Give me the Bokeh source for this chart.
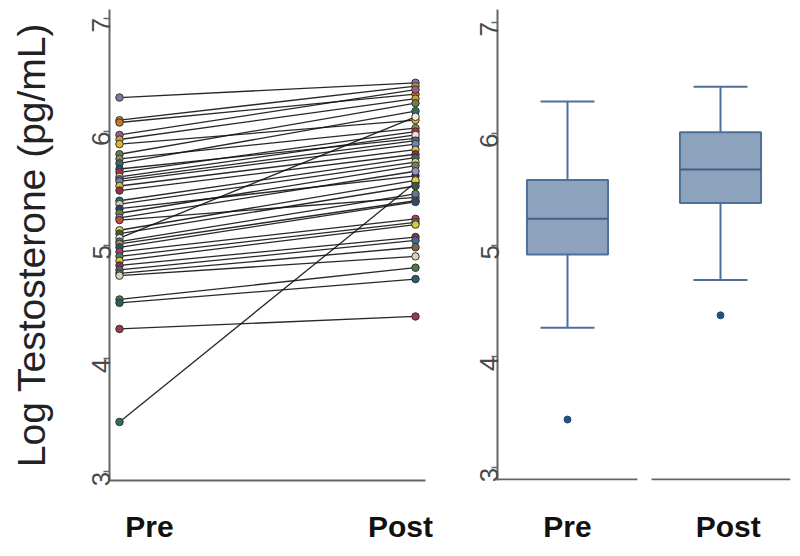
import math
from bokeh.plotting import figure
from bokeh.layouts import row
from bokeh.models import Range1d, FixedTicker, ColumnDataSource
from bokeh.embed import file_html
from bokeh.resources import INLINE

# ---------------- data ----------------
groups = ["Pre", "Post"]
y_ticks = [3, 4, 5, 6, 7]

pre = [6.30, 3.44, 4.26, 4.52, 4.49, 6.10, 6.08, 5.97, 5.93, 5.89, 5.80, 5.76, 5.72,
       5.67, 5.64, 5.60, 5.58, 5.56, 5.52, 5.48, 5.39, 5.36, 5.32, 5.28, 5.24, 5.22,
       5.13, 5.10, 5.06, 5.03, 5.01, 4.98, 4.94, 4.90, 4.86, 4.82, 4.78, 4.75, 4.73]
post = [6.43, 5.55, 4.37, 4.80, 4.70, 6.40, 6.33, 6.37, 6.29, 6.10, 6.25, 6.03, 6.18,
        5.94, 6.00, 5.97, 5.92, 5.89, 5.84, 5.80, 5.77, 5.73, 5.61, 5.70, 5.65, 5.42,
        5.57, 5.52, 6.13, 5.45, 5.39, 5.38, 5.23, 5.20, 5.18, 5.07, 5.04, 4.98, 4.90]
subject_colors = [
    "#7d7aa6", "#2f6e5e", "#9c3a4a", "#4e7a3e", "#2b5d6e",
    "#d0882c", "#c9781f", "#9b5a95", "#d49a2a", "#e0b82a",
    "#6d7a4a", "#8a8a6a", "#3c6a52", "#2d4f7a", "#b03040",
    "#e8e4d0", "#4a6a8a", "#7a7fb8", "#cfc43a", "#a02838",
    "#2f6d6a", "#d8d0b0", "#2b3e6e", "#6a8a3a", "#9a8fc8",
    "#c94a3a", "#e2d23c", "#3a5a3a", "#f0ede0", "#5a7a9a",
    "#a0a040", "#2d4d6d", "#b83a58", "#4a7a6a", "#e0c830",
    "#8a3050", "#3e6a8c", "#7a6a3a", "#d6d2c0"]

# box-plot summary
box_q1 = [4.914, 5.377]
box_median = [5.235, 5.678]
box_q3 = [5.583, 6.011]
whisker_low = [4.258, 4.686]
whisker_high = [6.287, 6.420]
outlier_group = [0, 1]
outlier_value = [3.434, 4.369]

# ---------------- styling helpers ----------------
AXIS_COLOR = "#666666"
TICK_LABEL_COLOR = "#4a4a4a"
FONT = "Liberation Sans"
FIG_H = 546
BOTTOM = 66


def style_common(p):
    p.outline_line_color = None
    p.xgrid.grid_line_color = None
    p.ygrid.grid_line_color = None
    p.background_fill_color = "white"
    p.border_fill_color = "white"
    ya = p.yaxis[0]
    ya.ticker = FixedTicker(ticks=y_ticks)
    ya.minor_tick_line_color = None
    ya.major_tick_out = 6
    ya.major_tick_in = 0
    ya.major_tick_line_color = AXIS_COLOR
    ya.major_tick_line_width = 1.5
    ya.axis_line_color = AXIS_COLOR
    ya.axis_line_width = 2
    ya.major_label_orientation = math.pi / 2
    ya.major_label_text_font = FONT
    ya.major_label_text_font_size = "26px"
    ya.major_label_text_color = TICK_LABEL_COLOR
    ya.major_label_standoff = 2
    xa = p.xaxis[0]
    xa.major_tick_line_color = None
    xa.minor_tick_line_color = None
    xa.major_tick_out = 0
    xa.major_tick_in = 0
    xa.major_label_text_font = FONT
    xa.major_label_text_font_size = "30px"
    xa.major_label_text_font_style = "bold"
    xa.major_label_text_color = "#111111"
    xa.major_label_standoff = 29


# ---------------- left panel: paired points ----------------
p1 = figure(width=458, height=FIG_H, output_backend="svg", toolbar_location=None,
            x_range=Range1d(-0.0338, 1.0338), y_range=Range1d(2.924, 7.076),
            min_border_left=109, min_border_right=33, min_border_top=4,
            min_border_bottom=BOTTOM)
style_common(p1)
p1.xaxis.axis_line_color = AXIS_COLOR
p1.xaxis.axis_line_width = 2
left_label_pos = [0.101, 0.949]
p1.xaxis.ticker = FixedTicker(ticks=left_label_pos)
p1.xaxis.major_label_overrides = {left_label_pos[i]: groups[i] for i in range(2)}
p1.yaxis.axis_label = "Log Testosterone (pg/mL)"
p1.yaxis.axis_label_text_font = FONT
p1.yaxis.axis_label_text_font_size = "39px"
p1.yaxis.axis_label_text_font_style = "normal"
p1.yaxis.axis_label_text_color = "#222222"
p1.yaxis.axis_label_standoff = 28

n = len(pre)
src = ColumnDataSource(dict(x0=[0] * n, x1=[1] * n, pre=pre, post=post,
                            color=subject_colors))
p1.segment(x0="x0", y0="pre", x1="x1", y1="post", source=src,
           line_color="#111111", line_alpha=0.9, line_width=1.3)
p1.scatter(x="x0", y="pre", source=src, size=7.5, fill_color="color",
           line_color="#333333", line_width=1)
p1.scatter(x="x1", y="post", source=src, size=7.5, fill_color="color",
           line_color="#333333", line_width=1)

# ---------------- right panel: box plots ----------------
y2_start, y2_end = 2.887, 7.113
x2_start, x2_end = -0.4575, 1.4575
p2 = figure(width=334, height=FIG_H, output_backend="svg", toolbar_location=None,
            x_range=Range1d(x2_start, x2_end), y_range=Range1d(y2_start, y2_end),
            min_border_left=39, min_border_right=2, min_border_top=9,
            min_border_bottom=BOTTOM)
style_common(p2)
p2.xaxis.axis_line_color = None
right_label_pos = [0.0, 1.05]
p2.xaxis.ticker = FixedTicker(ticks=right_label_pos)
p2.xaxis.major_label_overrides = {right_label_pos[i]: groups[i] for i in range(2)}

gx = [0, 1]
BOX_LINE = "#4d7096"
BOX_FILL = "#8da3bd"
box_w = 0.53
cap_w = 0.353
# whiskers
p2.segment(x0=gx, x1=gx, y0=box_q3, y1=whisker_high, line_color=BOX_LINE, line_width=2)
p2.segment(x0=gx, x1=gx, y0=box_q1, y1=whisker_low, line_color=BOX_LINE, line_width=2)
p2.segment(x0=[g - cap_w / 2 for g in gx], x1=[g + cap_w / 2 for g in gx],
           y0=whisker_high, y1=whisker_high, line_color=BOX_LINE, line_width=2)
p2.segment(x0=[g - cap_w / 2 for g in gx], x1=[g + cap_w / 2 for g in gx],
           y0=whisker_low, y1=whisker_low, line_color=BOX_LINE, line_width=2)
# boxes
p2.vbar(x=gx, width=box_w, bottom=box_q1, top=box_q3, fill_color=BOX_FILL,
        line_color=BOX_LINE, line_width=2)
p2.segment(x0=[g - box_w / 2 for g in gx], x1=[g + box_w / 2 for g in gx],
           y0=box_median, y1=box_median, line_color="#3f6288", line_width=2)
# outliers
p2.scatter(x=outlier_group, y=outlier_value, size=7, fill_color="#24507a",
           line_color="#24507a")
# broken bottom axis line
base_y = y2_start + 0.009
p2.segment(x0=[x2_start, 0.549], x1=[0.457, x2_end], y0=[base_y, base_y],
           y1=[base_y, base_y], line_color=AXIS_COLOR, line_width=2)

layout = row(p1, p2)
open("out.html", "w").write(file_html(layout, INLINE))
